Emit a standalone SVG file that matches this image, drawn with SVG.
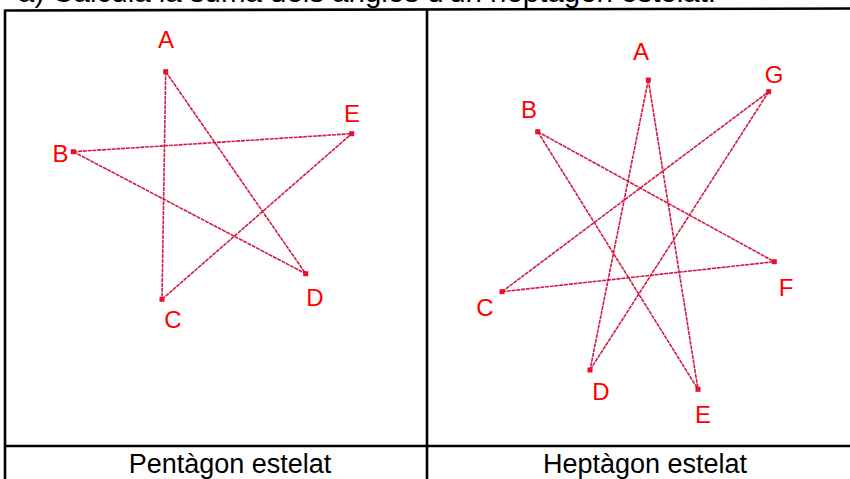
<svg xmlns="http://www.w3.org/2000/svg" width="850" height="479" viewBox="0 0 850 479">
<style>
.grid{stroke:#000;stroke-width:2.6;fill:none}
.edge{stroke:#d41a46;stroke-width:1.6;stroke-dasharray:4 0.8;fill:none}
.pt{fill:#e8102a}
.lbl{font-family:"Liberation Sans",Arial,sans-serif;font-size:24px;fill:#ff0000;text-anchor:middle}
.cap{font-family:"Liberation Sans",Arial,sans-serif;font-size:27px;fill:#000;text-anchor:middle}
.title{font-family:"Liberation Sans",Arial,sans-serif;font-size:28px;fill:#000}
</style>
<rect width="850" height="479" fill="#fff"/>
<text class="title" x="18" y="1.5" textLength="698" lengthAdjust="spacingAndGlyphs">a) Calcula la suma dels angles d'un heptàgon estelat.</text>
<g id="table">
<line class="grid" x1="5" y1="10.5" x2="850" y2="8.5"/>
<line class="grid" x1="5" y1="9.5" x2="5" y2="479"/>
<line class="grid" x1="427" y1="9.5" x2="427" y2="479"/>
<line class="grid" x1="5" y1="446" x2="850" y2="446"/>
<text class="cap" x="230" y="473">Pentàgon estelat</text>
<text class="cap" x="645" y="473">Heptàgon estelat</text>
</g>
<g id="connectors">
<line class="edge" x1="165.7" y1="71.7" x2="162" y2="299.3"/>
<line class="edge" x1="165.7" y1="71.7" x2="305.7" y2="273.7"/>
<line class="edge" x1="73.3" y1="151.7" x2="351.7" y2="133.7"/>
<line class="edge" x1="73.3" y1="151.7" x2="305.7" y2="273.7"/>
<line class="edge" x1="162" y1="299.3" x2="351.7" y2="133.7"/>
<line class="edge" x1="648.3" y1="80" x2="590" y2="370"/>
<line class="edge" x1="648.3" y1="80" x2="698" y2="389.3"/>
<line class="edge" x1="537.7" y1="131.7" x2="774.3" y2="261.7"/>
<line class="edge" x1="537.7" y1="131.7" x2="698" y2="389.3"/>
<line class="edge" x1="502" y1="291.7" x2="768.7" y2="91.7"/>
<line class="edge" x1="502" y1="291.7" x2="774.3" y2="261.7"/>
<line class="edge" x1="768.7" y1="91.7" x2="590" y2="370"/>
</g>
<g id="penta-A"><rect class="pt" x="163.2" y="69.2" width="5" height="5"/><text class="lbl" x="166" y="48">A</text></g>
<g id="penta-B"><rect class="pt" x="70.8" y="149.2" width="5" height="5"/><text class="lbl" x="60.5" y="161.5">B</text></g>
<g id="penta-C"><rect class="pt" x="159.5" y="296.8" width="5" height="5"/><text class="lbl" x="173" y="327.5">C</text></g>
<g id="penta-D"><rect class="pt" x="303.2" y="271.2" width="5" height="5"/><text class="lbl" x="315" y="306">D</text></g>
<g id="penta-E"><rect class="pt" x="349.2" y="131.2" width="5" height="5"/><text class="lbl" x="352" y="122">E</text></g>
<g id="hepta-A"><rect class="pt" x="645.8" y="77.5" width="5" height="5"/><text class="lbl" x="641" y="60">A</text></g>
<g id="hepta-B"><rect class="pt" x="535.2" y="129.2" width="5" height="5"/><text class="lbl" x="529" y="118">B</text></g>
<g id="hepta-C"><rect class="pt" x="499.5" y="289.2" width="5" height="5"/><text class="lbl" x="485" y="316">C</text></g>
<g id="hepta-D"><rect class="pt" x="587.5" y="367.5" width="5" height="5"/><text class="lbl" x="601" y="400">D</text></g>
<g id="hepta-E"><rect class="pt" x="695.5" y="386.8" width="5" height="5"/><text class="lbl" x="703" y="423">E</text></g>
<g id="hepta-F"><rect class="pt" x="771.8" y="259.2" width="5" height="5"/><text class="lbl" x="786" y="295.5">F</text></g>
<g id="hepta-G"><rect class="pt" x="766.2" y="89.2" width="5" height="5"/><text class="lbl" x="774" y="82.5">G</text></g>
</svg>
